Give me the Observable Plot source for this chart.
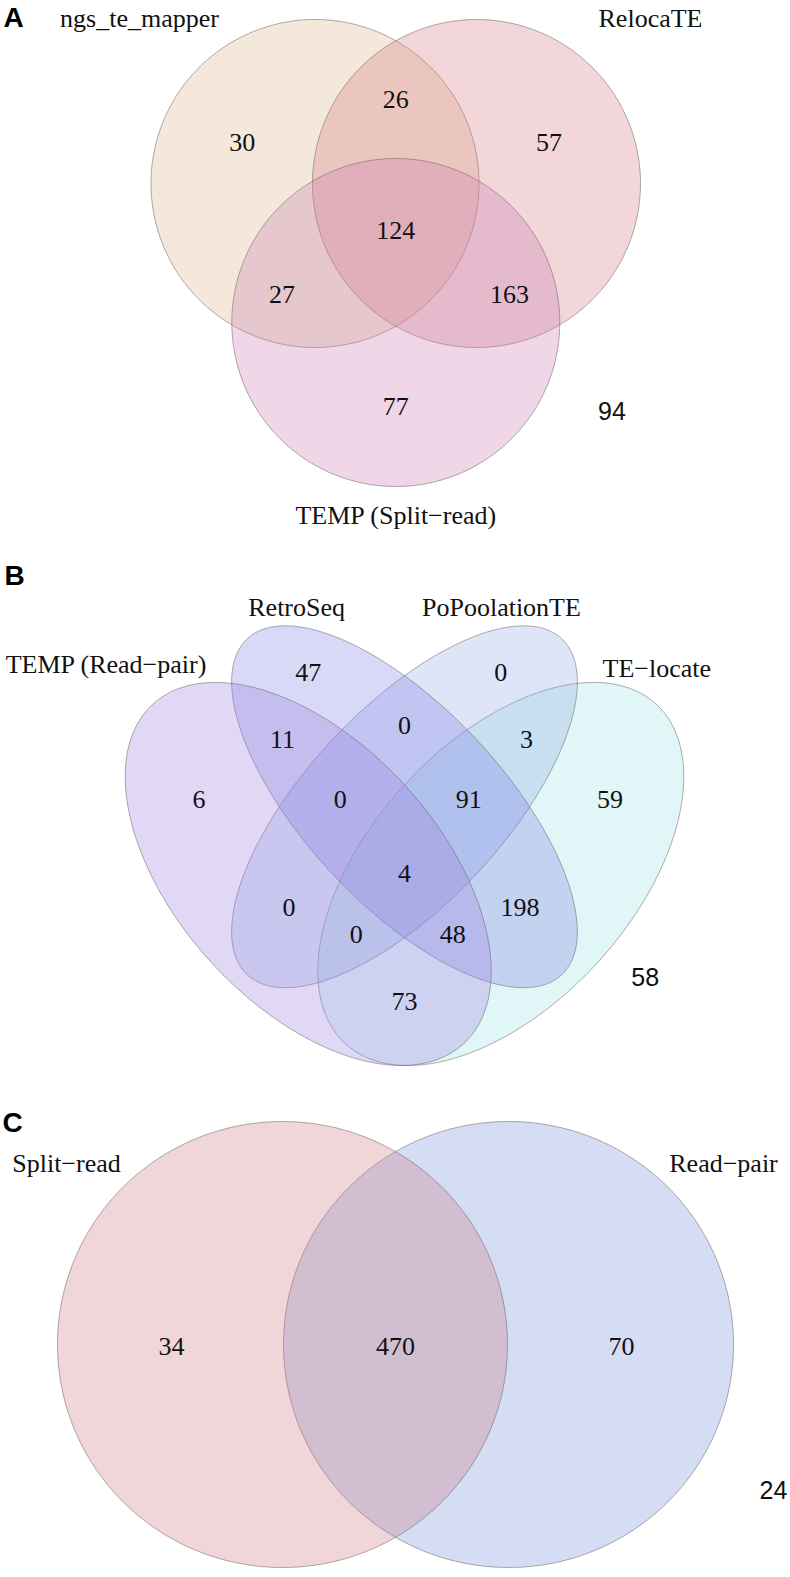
<!DOCTYPE html>
<html><head><meta charset="utf-8">
<script src="https://cdn.jsdelivr.net/npm/d3@7"></script>
<script src="https://cdn.jsdelivr.net/npm/@observablehq/plot@0.6"></script>
<style>
html,body{margin:0;padding:0;background:#fff;}
#chart{width:790px;}
#chart svg{display:block;}
</style></head><body><div id="chart"></div>
<script>
// ---------------- DATA ----------------
// Panel A
const panelA = "A";
const setsA = ["ngs_te_mapper", "RelocaTE", "TEMP (Split−read)"];
const regionsA = ["ngs_te_mapper only", "ngs_te_mapper∩RelocaTE", "RelocaTE only", "all three", "ngs_te_mapper∩TEMP", "RelocaTE∩TEMP", "TEMP only"];
const countsA = [30, 26, 57, 124, 27, 163, 77];
const outsideA = 94;

// Panel B
const panelB = "B";
const setsB = ["TEMP (Read−pair)", "RetroSeq", "PoPoolationTE", "TE−locate"];
const regionsB = ["RetroSeq only", "RetroSeq∩PoPoolationTE", "PoPoolationTE only", "TEMP∩RetroSeq", "TEMP∩RetroSeq∩PoPoolationTE", "all four", "RetroSeq∩PoPoolationTE∩TE−locate", "PoPoolationTE∩TE−locate", "TEMP only", "TEMP∩PoPoolationTE", "TEMP∩PoPoolationTE∩TE−locate", "TEMP∩RetroSeq∩TE−locate", "RetroSeq∩TE−locate", "TE−locate only", "TEMP∩TE−locate"];
const countsB = [47, 0, 0, 11, 0, 4, 91, 3, 6, 0, 0, 48, 198, 59, 73];
const outsideB = 58;

// Panel C
const panelC = "C";
const setsC = ["Split−read", "Read−pair"];
const regionsC = ["Split−read only", "both", "Read−pair only"];
const countsC = [34, 470, 70];
const outsideC = 24;

// ---------------- LAYOUT (positions / sizes / styles) ----------------
const serif = "'Liberation Serif','Times New Roman',Times,serif";
const sans = "'Liberation Sans',Arial,Helvetica,sans-serif";
const layoutA = {
  height: 540, x: {domain: [0, 790], range: [0, 790]}, y: {domain: [0, 540], range: [0, 540]},
  shapes: [[314.5, 183, 164, 164, 0], [476, 183, 164, 164, 0], [395.3, 322, 164, 164, 0]],
  fills: ["#DAB284", "#D47680", "#CA7AB2"], order: [0, 1, 2],
  setPos: [[139, 18.5], [650, 18.5], [395.3, 515]],
  regionPos: [[241.7, 142], [395.3, 99.5], [548.5, 142], [395.3, 230], [281.5, 294], [509, 294], [395.3, 406]],
  outsidePos: [611.5, 411], letterPos: [13.5, 18]
};
const layoutB = {
  height: 550, x: {domain: [0, 1], range: [83, 725]}, y: {domain: [0, 1], range: [649.3, -22.7]},
  shapes: [[0.35, 0.47, 0.35, 0.20, 135], [0.50, 0.57, 0.35, 0.15, 135], [0.50, 0.57, 0.35, 0.15, 45], [0.65, 0.47, 0.35, 0.20, 45]],
  fills: ["#9B7DDE", "#7D7DE4", "#8EA8E4", "#9BE1E1"], order: [3, 2, 1, 0],
  setPos: [[0.035, 0.782], [0.332, 0.867], [0.651, 0.867], [0.893, 0.776]],
  regionPos: [[0.35, 0.77], [0.5, 0.69], [0.65, 0.77], [0.31, 0.67], [0.4, 0.58], [0.5, 0.47], [0.6, 0.58], [0.69, 0.67], [0.18, 0.58], [0.32, 0.42], [0.425, 0.38], [0.575, 0.38], [0.68, 0.42], [0.82, 0.58], [0.5, 0.28]],
  outsidePos: [0.875, 0.315], letterPos: [14.5, 36]
};
const layoutC = {
  height: 487, x: {domain: [0, 790], range: [0, 790]}, y: {domain: [0, 487], range: [0, 487]},
  shapes: [[282, 254, 225, 223, 0], [508, 254, 225, 223, 0]],
  fills: ["#CD767D", "#738EDE"], order: [1, 0],
  setPos: [[66, 73.5], [723, 73.5]],
  regionPos: [[171, 256], [395, 256], [621, 256]],
  outsidePos: [773, 400], letterPos: [12.5, 33]
};
const fillAlpha = 0.3;

function ellipsePoints(cx, cy, a, b, rotDeg, key, n = 360) {
  const r = rotDeg * Math.PI / 180;
  return d3.range(n).map(i => {
    const t = 2 * Math.PI * i / n;
    return {key,
      x: cx + a * Math.cos(t) * Math.cos(r) - b * Math.sin(t) * Math.sin(r),
      y: cy + a * Math.cos(t) * Math.sin(r) + b * Math.sin(t) * Math.cos(r)};
  });
}

function venn(letter, sets, regions, counts, outside, L) {
  const marks = [];
  L.order.forEach(i => {
    marks.push(Plot.line(ellipsePoints(...L.shapes[i], sets[i]), {
      x: "x", y: "y", curve: "linear-closed",
      fill: L.fills[i], fillOpacity: fillAlpha, stroke: "#6a6060", strokeWidth: 0.7, strokeOpacity: 0.75
    }));
  });
  const regionData = regions.map((r, i) => ({region: r, count: counts[i], x: L.regionPos[i][0], y: L.regionPos[i][1]}));
  marks.push(Plot.text(regionData, {x: "x", y: "y", text: d => String(d.count), fontSize: 26, fontFamily: serif, fill: "#111", lineAnchor: "middle"}));
  const setData = sets.map((s, i) => ({set: s, x: L.setPos[i][0], y: L.setPos[i][1]}));
  marks.push(Plot.text(setData, {x: "x", y: "y", text: "set", fontSize: 26, fontFamily: serif, fill: "#111", lineAnchor: "middle"}));
  marks.push(Plot.text([{count: outside, x: L.outsidePos[0], y: L.outsidePos[1]}], {x: "x", y: "y", text: d => String(d.count), fontSize: 25, fontFamily: sans, fill: "#111", lineAnchor: "middle"}));
  const svg = Plot.plot({
    width: 790, height: L.height, margin: 0,
    style: {background: "white", overflow: "visible"},
    x: {...L.x, axis: null}, y: {...L.y, axis: null},
    marks
  });
  // panel letter
  const ns = "http://www.w3.org/2000/svg";
  const t = document.createElementNS(ns, "text");
  t.setAttribute("x", L.letterPos[0]); t.setAttribute("y", L.letterPos[1]);
  t.setAttribute("text-anchor", "middle"); t.setAttribute("dy", "0.32em");
  t.setAttribute("font-family", sans); t.setAttribute("font-weight", "bold"); t.setAttribute("font-size", 28);
  t.textContent = letter;
  svg.appendChild(t);
  return svg;
}

const chart = document.getElementById("chart");
chart.appendChild(venn(panelA, setsA, regionsA, countsA, outsideA, layoutA));
chart.appendChild(venn(panelB, setsB, regionsB, countsB, outsideB, layoutB));
chart.appendChild(venn(panelC, setsC, regionsC, countsC, outsideC, layoutC));
</script></body></html>
